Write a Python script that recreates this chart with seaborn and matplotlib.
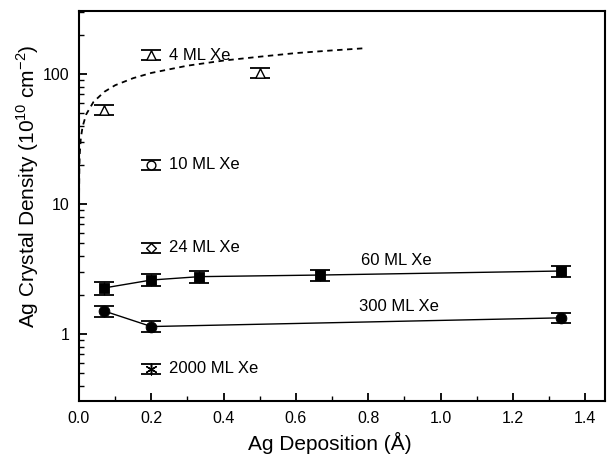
import numpy as np
import pandas as pd
import matplotlib
matplotlib.use("Agg")
import matplotlib.pyplot as plt
from matplotlib.ticker import MultipleLocator, LogLocator, NullFormatter, FixedLocator, FixedFormatter
import seaborn as sns

# data
x_4ml = [0.07, 0.2, 0.5]
y_4ml = [53, 140, 102]
e_4ml = [5, 12, 9]

x_10ml = [0.2]
y_10ml = [20]
e_10ml = [1.8]

x_24ml = [0.2]
y_24ml = [4.6]
e_24ml = [0.4]

x_60ml = [0.07, 0.2, 0.333, 0.667, 1.333]
y_60ml = [2.26, 2.6, 2.76, 2.84, 3.05]
e_60ml = [0.25, 0.27, 0.28, 0.28, 0.3]

x_300ml = [0.07, 0.2, 1.333]
y_300ml = [1.5, 1.14, 1.33]
e_300ml = [0.14, 0.11, 0.12]

x_2000ml = [0.2]
y_2000ml = [0.54]
e_2000ml = [0.05]

# dashed guide curve
x_fit = [0.0003, 0.001, 0.002, 0.005, 0.01, 0.02, 0.04, 0.07, 0.1, 0.15, 0.2, 0.3, 0.4, 0.5, 0.6, 0.7, 0.79]
y_fit = [12, 19, 24, 32, 39.5, 49, 61, 73, 82, 93, 102, 116, 127, 136, 145, 152, 158]

sns.set_style("ticks")
plt.rcParams['font.family'] = ['Liberation Sans', 'DejaVu Sans']
plt.rcParams['mathtext.fontset'] = 'custom'
plt.rcParams['mathtext.rm'] = 'Liberation Sans'
plt.rcParams['text.color'] = 'black'
plt.rcParams['axes.labelcolor'] = 'black'
plt.rcParams['xtick.color'] = 'black'
plt.rcParams['ytick.color'] = 'black'

fig = plt.figure(figsize=(6.1, 4.63), dpi=100)
ax = fig.add_axes([0.1295, 0.134, 0.8625, 0.842])

ax.set_yscale("log")

sns.lineplot(x=x_fit, y=y_fit, ax=ax, color="black", linestyle=(0, (3, 2.5)), lw=1.3)
sns.lineplot(x=x_60ml, y=y_60ml, ax=ax, color="black", lw=1.0)
sns.lineplot(x=x_300ml, y=y_300ml, ax=ax, color="black", lw=1.0)

eb = dict(fmt="none", ecolor="black", elinewidth=1.0, capsize=7, capthick=1.3, zorder=3)
for xs, ys, es in [(x_4ml, y_4ml, e_4ml), (x_10ml, y_10ml, e_10ml), (x_24ml, y_24ml, e_24ml),
                   (x_60ml, y_60ml, e_60ml), (x_300ml, y_300ml, e_300ml), (x_2000ml, y_2000ml, e_2000ml)]:
    ax.errorbar(xs, ys, yerr=es, **eb)

sns.scatterplot(x=x_4ml, y=y_4ml, ax=ax, marker="^", s=45, facecolor="white", edgecolor="black", linewidth=1.0, zorder=4)
sns.scatterplot(x=x_10ml, y=y_10ml, ax=ax, marker="o", s=40, facecolor="white", edgecolor="black", linewidth=1.0, zorder=4)
sns.scatterplot(x=x_24ml, y=y_24ml, ax=ax, marker="D", s=25, facecolor="white", edgecolor="black", linewidth=1.0, zorder=4)
sns.scatterplot(x=x_60ml, y=y_60ml, ax=ax, marker="s", s=60, color="black", edgecolor="black", zorder=4)
sns.scatterplot(x=x_300ml, y=y_300ml, ax=ax, marker="o", s=60, color="black", edgecolor="black", zorder=4)
sns.scatterplot(x=x_2000ml, y=y_2000ml, ax=ax, marker=(6, 2, 0), s=60, color="black", linewidth=1.0, zorder=4)

fs = 12
ax.text(0.25, 140, "4 ML Xe", fontsize=fs, va="center")
ax.text(0.25, 20, "10 ML Xe", fontsize=fs, va="center")
ax.text(0.25, 4.6, "24 ML Xe", fontsize=fs, va="center")
ax.text(0.78, 3.7, "60 ML Xe", fontsize=fs, va="center")
ax.text(0.775, 1.62, "300 ML Xe", fontsize=fs, va="center")
ax.text(0.25, 0.54, "2000 ML Xe", fontsize=fs, va="center")

ax.set_xlim(0, 1.455)
ax.set_ylim(0.305, 305)
ax.xaxis.set_major_locator(MultipleLocator(0.2))
ax.xaxis.set_minor_locator(MultipleLocator(0.1))
ax.set_xticklabels([f"{v:.1f}" for v in ax.get_xticks()])
ax.yaxis.set_major_locator(FixedLocator([1, 10, 100]))
ax.yaxis.set_major_formatter(FixedFormatter(["1", "10", "100"]))
ax.yaxis.set_minor_locator(LogLocator(base=10, subs=np.arange(2, 10)))
ax.yaxis.set_minor_formatter(NullFormatter())

ax.tick_params(axis="both", which="major", direction="in", length=6, width=1.3, labelsize=11.5, pad=7)
ax.tick_params(axis="both", which="minor", direction="in", length=3.5, width=1.0)
ax.tick_params(top=False, right=False)
for sp in ax.spines.values():
    sp.set_linewidth(1.5)
    sp.set_color("black")

ax.set_xlabel("Ag Deposition (Å)", fontsize=15)
ax.set_ylabel("Ag Crystal Density (10$^{10}$ cm$^{-2}$)", fontsize=15)
ax.xaxis.set_label_coords(0.477, -0.08)
ax.yaxis.set_label_coords(-0.072, 0.55)

fig.savefig("out.png", dpi=100)
